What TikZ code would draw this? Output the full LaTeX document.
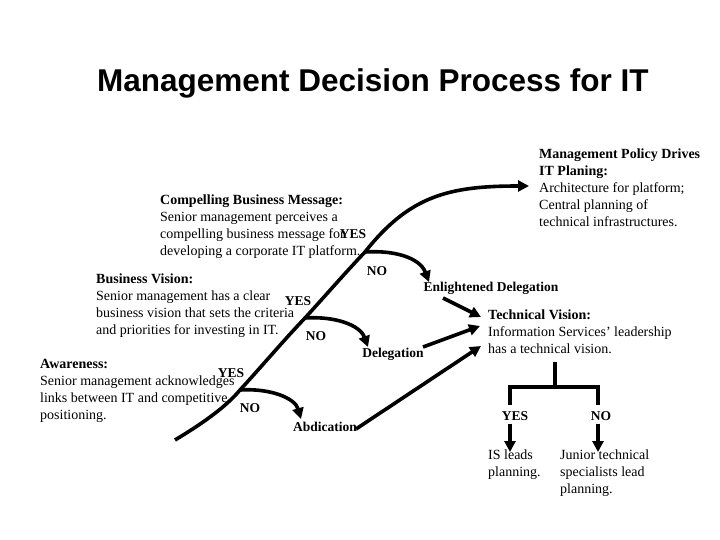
\documentclass[tikz,border=0pt]{standalone}
\usepackage{fontspec}
\setmainfont{Liberation Serif}
\newfontfamily\titlefont{Liberation Sans}
\usetikzlibrary{arrows.meta}
\begin{document}
\begin{tikzpicture}[x=1pt,y=-1pt,
  txt/.style={anchor=north west,align=left,inner sep=0pt,font=\fontsize{14}{17}\selectfont},
  lbl/.style={inner sep=0pt,font=\fontsize{13.5}{15}\selectfont\bfseries},
  curvy/.style={line width=3.6pt,-{Triangle[length=11pt,width=11pt]}},
  straight/.style={line width=3.6pt,-{Triangle[length=11pt,width=11pt]}}]
\useasboundingbox (0,0) rectangle (720,540);
\node[anchor=west,inner sep=0pt,font=\titlefont\fontsize{31.5}{34}\selectfont\bfseries] (title) at (97,83) {Management Decision Process for IT};
% text blocks
\node[txt] (mp) at (539,149) {\textbf{Management Policy Drives}\\\textbf{IT Planing:}\\Architecture for platform;\\Central planning of\\technical infrastructures.};
\node[txt] (cb) at (160,195) {\textbf{Compelling Business Message:}\\Senior management perceives a\\compelling business message for\\developing a corporate IT platform.};
\node[txt] (bv) at (96,274) {\textbf{Business Vision:}\\Senior management has a clear\\business vision that sets the criteria\\and priorities for investing in IT.};
\node[txt] (aw) at (40,359) {\textbf{Awareness:}\\Senior management acknowledges\\links between IT and competitive\\positioning.};
\node[txt] (tv) at (488,310) {\textbf{Technical Vision:}\\Information Services' leadership\\has a technical vision.};
\node[txt] (is) at (488,450) {IS leads\\planning.};
\node[txt] (jr) at (560,450) {Junior technical\\specialists lead\\planning.};
% labels
\node[lbl] (y3) at (353,234) {YES};
\node[lbl] (n3) at (377,271) {NO};
\node[lbl] (y2) at (298,301) {YES};
\node[lbl] (n2) at (316,336) {NO};
\node[lbl] (y1) at (231,373) {YES};
\node[lbl] (n1) at (250,408) {NO};
\node[lbl] (ab) at (325,427) {Abdication};
\node[lbl] (de) at (393,354) {Delegation};
\node[lbl] (en) at (491,288) {Enlightened Delegation};
\node[lbl] (ty) at (515,416) {YES};
\node[lbl] (tn) at (601,416) {NO};
% coordinates
\coordinate (s) at (175,440);
\coordinate (b1) at (240,390);
\coordinate (b2) at (305,318);
\coordinate (b3) at (365,252);
\coordinate (e) at (529,186);
\draw[curvy] (s) .. controls (200,425) and (225,408) .. (b1)
  .. controls (262,366) and (284,340) .. (b2)
  .. controls (326,295) and (345,273) .. (b3)
  .. controls (410,195) and (450,186) .. (e);
\draw[curvy] (b1) .. controls (270,388) and (295,398) .. (301,419);
\draw[curvy] (b2) .. controls (335,316) and (360,325) .. (368,347);
\draw[curvy] (b3) .. controls (395,250) and (420,258) .. (429,282);
\coordinate (t1) at (443,298); \coordinate (t1e) at (481,317);
\coordinate (t2) at (423,347); \coordinate (t2e) at (480,326);
\coordinate (t3) at (356,429); \coordinate (t3e) at (481,346);
\draw[straight] (t1) -- (t1e);
\draw[straight] (t2) -- (t2e);
\draw[straight] (t3) -- (t3e);
\draw[line width=3.6pt] (555,362) -- (555,387) (508.2,387) -- (599.8,387) (510,386) -- (510,405) (598,386) -- (598,405);
\draw[straight] (ty.south -| 510,0) ++(0,3) coordinate (a1) -- (510,452);
\draw[straight] (tn.south -| 598,0) ++(0,3) coordinate (a2) -- (598,452);
\end{tikzpicture}
\end{document}
